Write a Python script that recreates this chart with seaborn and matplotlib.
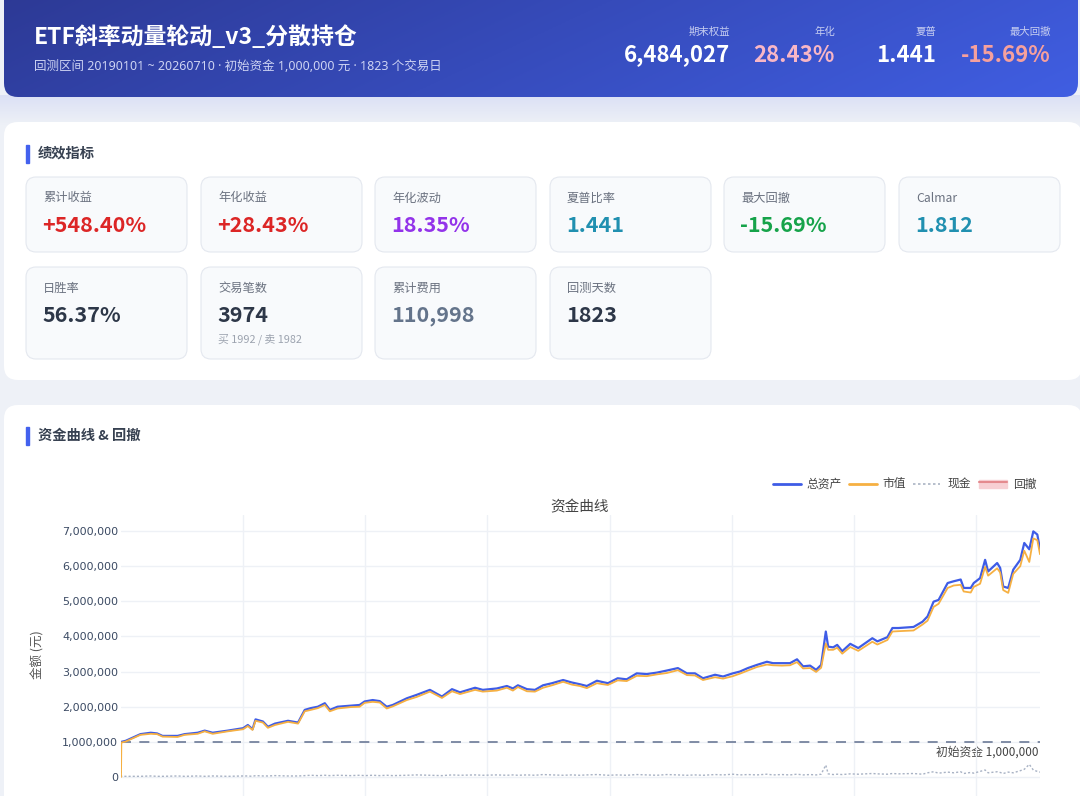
import numpy as np
import pandas as pd
import seaborn as sns
import matplotlib.pyplot as plt
import matplotlib.ticker as mticker
from matplotlib.patches import FancyBboxPatch, Rectangle
from matplotlib.lines import Line2D

sns.set_style('white')
plt.rcParams['font.family'] = ['Noto Sans CJK SC', 'DejaVu Sans']

# ---- header numbers ----
title = 'ETF斜率动量轮动_v3_分散持仓'
subtitle = '回测区间 20190101 ~ 20260710 · 初始资金 1,000,000 元 · 1823 个交易日'
head_labels = ['期末权益', '年化', '夏普', '最大回撤']
head_values = ['6,484,027', '28.43%', '1.441', '-15.69%']

# ---- metric cards ----
card_labels = ['累计收益', '年化收益', '年化波动', '夏普比率', '最大回撤', 'Calmar',
               '日胜率', '交易笔数', '累计费用', '回测天数']
card_values = ['+548.40%', '+28.43%', '18.35%', '1.441', '-15.69%', '1.812',
               '56.37%', '3974', '110,998', '1823']
card_notes = ['', '', '', '', '', '', '', '买 1992 / 卖 1982', '', '']

# ---- equity curve (millions of yuan) ----
dates = ['2019-01-02', '2019-01-03', '2019-01-16', '2019-03-01', '2019-04-01', '2019-04-20',
         '2019-05-06', '2019-06-20', '2019-07-11', '2019-08-19', '2019-09-09', '2019-10-03',
         '2019-11-17', '2020-01-02', '2020-01-16', '2020-01-30', '2020-02-08', '2020-03-01',
         '2020-03-16', '2020-04-06', '2020-05-15', '2020-06-14', '2020-07-04', '2020-07-22',
         '2020-08-12', '2020-09-02', '2020-09-17', '2020-10-10', '2020-11-18', '2020-12-15',
         '2020-12-30', '2021-01-23', '2021-02-13', '2021-03-06', '2021-03-24', '2021-05-05',
         '2021-06-04', '2021-07-13', '2021-08-18', '2021-09-17', '2021-10-11', '2021-11-25',
         '2021-12-18', '2022-01-29', '2022-02-28', '2022-03-18', '2022-04-02', '2022-04-29',
         '2022-05-23', '2022-06-16', '2022-07-13', '2022-08-15', '2022-09-10', '2022-10-04',
         '2022-10-25', '2022-11-24', '2022-12-12', '2022-12-27', '2023-01-25', '2023-02-21',
         '2023-03-23', '2023-04-22', '2023-05-22', '2023-06-21', '2023-07-24', '2023-08-20',
         '2023-09-13', '2023-10-07', '2023-11-12', '2023-12-06', '2024-01-04', '2024-01-25',
         '2024-02-18', '2024-03-16', '2024-04-15', '2024-05-03', '2024-05-30', '2024-06-23',
         '2024-07-14', '2024-08-01', '2024-08-22', '2024-09-09', '2024-09-24', '2024-10-08',
         '2024-10-15', '2024-10-30', '2024-11-11', '2024-11-26', '2024-12-20', '2025-01-13',
         '2025-02-24', '2025-03-11', '2025-04-10', '2025-04-25', '2025-05-13', '2025-06-27',
         '2025-07-24', '2025-08-08', '2025-08-26', '2025-09-10', '2025-10-07', '2025-10-25',
         '2025-11-15', '2025-11-24', '2025-12-15', '2025-12-24', '2026-01-12', '2026-01-27',
         '2026-02-05', '2026-03-04', '2026-03-13', '2026-03-22', '2026-04-06', '2026-04-21',
         '2026-05-12', '2026-05-24', '2026-06-08', '2026-06-20', '2026-07-02', '2026-07-10']
total = [1.00, 1.00, 1.03, 1.22, 1.26, 1.24, 1.17, 1.17, 1.22, 1.26, 1.32, 1.26,
         1.32, 1.39, 1.48, 1.36, 1.64, 1.58, 1.43, 1.52, 1.60, 1.55, 1.91, 1.96,
         2.00, 2.10, 1.91, 2.00, 2.03, 2.05, 2.15, 2.19, 2.16, 2.00, 2.05, 2.24,
         2.34, 2.48, 2.29, 2.50, 2.41, 2.54, 2.48, 2.52, 2.59, 2.52, 2.61, 2.50,
         2.48, 2.61, 2.67, 2.76, 2.69, 2.64, 2.59, 2.74, 2.70, 2.67, 2.81, 2.78,
         2.95, 2.93, 2.97, 3.03, 3.10, 2.95, 2.95, 2.81, 2.91, 2.86, 2.95, 3.00,
         3.10, 3.19, 3.28, 3.24, 3.24, 3.24, 3.35, 3.15, 3.17, 3.05, 3.19, 4.14,
         3.71, 3.69, 3.76, 3.58, 3.79, 3.67, 3.95, 3.86, 3.98, 4.24, 4.24, 4.27,
         4.42, 4.57, 4.99, 5.04, 5.52, 5.57, 5.62, 5.38, 5.38, 5.52, 5.66, 6.18,
         5.85, 6.09, 5.95, 5.42, 5.38, 5.90, 6.18, 6.66, 6.48, 6.99, 6.90, 6.484027]
market = [0.00, 0.98, 1.01, 1.20, 1.23, 1.22, 1.15, 1.14, 1.20, 1.23, 1.30, 1.23,
          1.30, 1.36, 1.45, 1.34, 1.60, 1.55, 1.40, 1.48, 1.57, 1.52, 1.87, 1.91,
          1.96, 2.05, 1.87, 1.95, 1.99, 2.00, 2.11, 2.14, 2.12, 1.95, 2.01, 2.19,
          2.28, 2.43, 2.25, 2.44, 2.36, 2.48, 2.43, 2.46, 2.54, 2.46, 2.56, 2.44,
          2.43, 2.54, 2.61, 2.71, 2.63, 2.59, 2.53, 2.67, 2.64, 2.62, 2.75, 2.73,
          2.88, 2.87, 2.92, 2.96, 3.04, 2.90, 2.89, 2.76, 2.84, 2.80, 2.87, 2.94,
          3.03, 3.13, 3.20, 3.18, 3.17, 3.18, 3.27, 3.09, 3.10, 2.99, 3.11, 3.80,
          3.62, 3.62, 3.68, 3.51, 3.70, 3.59, 3.85, 3.77, 3.90, 4.14, 4.15, 4.17,
          4.34, 4.45, 4.84, 4.93, 5.38, 5.45, 5.47, 5.28, 5.25, 5.41, 5.50, 5.98,
          5.73, 5.94, 5.82, 5.32, 5.24, 5.78, 6.00, 6.44, 6.12, 6.79, 6.74, 6.34]
cash = [1.00, 0.02, 0.02, 0.02, 0.03, 0.02, 0.02, 0.03, 0.02, 0.03, 0.02, 0.03,
        0.02, 0.03, 0.03, 0.02, 0.04, 0.03, 0.03, 0.04, 0.03, 0.03, 0.04, 0.05,
        0.04, 0.05, 0.04, 0.05, 0.04, 0.05, 0.04, 0.05, 0.04, 0.05, 0.04, 0.05,
        0.06, 0.05, 0.04, 0.06, 0.05, 0.06, 0.05, 0.06, 0.05, 0.06, 0.05, 0.06,
        0.05, 0.07, 0.06, 0.05, 0.06, 0.05, 0.06, 0.07, 0.06, 0.05, 0.06, 0.05,
        0.07, 0.06, 0.05, 0.07, 0.06, 0.05, 0.06, 0.05, 0.07, 0.06, 0.08, 0.06,
        0.07, 0.06, 0.08, 0.06, 0.07, 0.06, 0.08, 0.06, 0.07, 0.06, 0.08, 0.34,
        0.09, 0.07, 0.08, 0.07, 0.09, 0.08, 0.10, 0.09, 0.08, 0.10, 0.09, 0.10,
        0.08, 0.12, 0.15, 0.11, 0.14, 0.12, 0.15, 0.10, 0.13, 0.11, 0.16, 0.20,
        0.12, 0.15, 0.13, 0.10, 0.14, 0.12, 0.18, 0.22, 0.36, 0.20, 0.16, 0.14]
init_capital = 1000000
year_ticks = ['2020-01-01', '2021-01-01', '2022-01-01', '2023-01-01',
              '2024-01-01', '2025-01-01', '2026-01-01']

W, H = 1080, 796
fig = plt.figure(figsize=(W / 100, H / 100), dpi=100)
fig.patch.set_facecolor('#eef1f7')
bg = fig.add_axes([0, 0, 1, 1])
bg.axis('off')


def rbox(x0, y0, x1, y1, r, fc, ec='none', lw=0, z=1):
    p = FancyBboxPatch((x0, y0), x1 - x0, y1 - y0,
                       boxstyle='round,pad=0,rounding_size=%s' % r,
                       fc=fc, ec=ec, lw=lw, zorder=z)
    bg.add_patch(p)
    return p


# shadow under the banner
sh = np.linspace(0, 1, 30)[:, None, None]
shadow = (1 - sh) * np.array([0.86, 0.88, 0.96]) + sh * np.array([0.933, 0.945, 0.969])
shadow = np.repeat(shadow, 10, axis=1)
bg.imshow(shadow, extent=[0, W, 125, 95], aspect='auto', zorder=0)

# banner with gradient
banner = rbox(4, -30, 1078, 97, 14, 'none', z=2)
gx = np.linspace(0, 1, 300)[None, :, None]
gy = np.linspace(0, 1, 60)[:, None, None]
c1 = np.array([0x2c, 0x38, 0x92]) / 255
c2 = np.array([0x40, 0x5e, 0xe2]) / 255
t = np.clip(0.8 * gx + 0.2 * gy, 0, 1)
grad = (1 - t) * c1 + t * c2
im = bg.imshow(grad, extent=[4, 1078, 97, -30], aspect='auto', zorder=2)
im.set_clip_path(banner)

bg.text(34, 37, title, color='white', fontsize=16.5, fontweight='bold', va='center', zorder=3)
bg.text(34, 66, subtitle, color='#cdd3f3', fontsize=9, va='center', zorder=3,
        family=['Noto Sans', 'Noto Sans CJK SC'])
head_x = [730, 835, 936, 1051]
head_colors = ['white', '#f8b6c6', 'white', '#f6a09d']
for lbl, val, xr, col in zip(head_labels, head_values, head_x, head_colors):
    bg.text(xr, 32, lbl, color='#c6cdf0', fontsize=7.5, ha='right', va='center', zorder=3)
    bg.text(xr, 55, val, color=col, fontsize=16, fontweight='bold', ha='right', va='center', zorder=3)

# panels
rbox(4, 122, 1082, 380, 14, 'white', z=1)
rbox(4, 405, 1082, 830, 14, 'white', z=1)


def section(y, text):
    bg.add_patch(Rectangle((26, y - 9), 2.5, 18, color='#4361ee', zorder=3))
    bg.text(38, y, text, color='#374151', fontsize=10.3, fontweight='bold', va='center', zorder=3)


section(154, '绩效指标')
section(436, '资金曲线 & 回撤')

card_x = [26, 201, 375, 550, 724, 899]
value_colors = ['#dc2626', '#dc2626', '#9333ea', '#2190b0', '#16a34a', '#2190b0',
                '#2d3748', '#2d3748', '#64748b', '#2d3748']
for i, (lbl, val, note, col) in enumerate(zip(card_labels, card_values, card_notes, value_colors)):
    row = 0 if i < 6 else 1
    x0 = card_x[i % 6] if row == 0 else card_x[i - 6]
    y0, y1 = (177, 252) if row == 0 else (267, 359)
    rbox(x0, y0, x0 + 161, y1, 10, '#f8fafc', ec='#e4e8ef', lw=0.8, z=2)
    bg.text(x0 + 17, y0 + 21, lbl, color='#6b7280', fontsize=8.8, va='center', zorder=3)
    bg.text(x0 + 16, y0 + 49, val, color=col, fontsize=15.5, fontweight='bold', va='center', zorder=3)
    if note:
        bg.text(x0 + 17, y0 + 72, note, color='#9ca3af', fontsize=7.8, va='center', zorder=3)

# legend
bg.add_line(Line2D([773, 801], [484, 484], color='#3e5ce6', lw=2, zorder=3))
bg.text(806, 484, '总资产', fontsize=8.5, color='#444444', va='center', zorder=3)
bg.add_line(Line2D([849, 877], [484, 484], color='#f6b042', lw=2, zorder=3))
bg.text(882, 484, '市值', fontsize=8.5, color='#444444', va='center', zorder=3)
bg.add_line(Line2D([913, 940], [484, 484], color='#aab4c4', lw=1.2, ls=(0, (1.5, 1.5)), zorder=3))
bg.text(948, 484, '现金', fontsize=8.5, color='#444444', va='center', zorder=3)
bg.add_patch(Rectangle((979, 480), 28, 8, color='#f7cfd3', zorder=3))
bg.add_line(Line2D([979, 1007], [482, 482], color='#e48a8e', lw=1.5, zorder=3))
bg.text(1013, 484, '回撤', fontsize=8.5, color='#444444', va='center', zorder=3)

bg.text(580, 507, '资金曲线', fontsize=10.5, color='#444444', ha='center', va='center', zorder=3)
bg.text(38, 655, '金额 (元)', fontsize=9, color='#555555', rotation=90, ha='center', va='center', zorder=3)
bg.text(1038, 752, '初始资金 1,000,000', fontsize=8.5, color='#444444', ha='right', va='center', zorder=3)

bg.set_xlim(0, W)
bg.set_ylim(H, 0)

# equity chart
df = pd.DataFrame({
    'date': pd.to_datetime(dates),
    'total': np.array(total) * 1e6,
    'market': np.array(market) * 1e6,
    'cash': np.array(cash) * 1e6,
})
ax = fig.add_axes([121 / W, 0, 919 / W, (H - 515) / H])
ax.set_facecolor('none')
sns.lineplot(data=df, x='date', y='cash', ax=ax, color='#a8b2c4', lw=1, linestyle=(0, (1.5, 1.5)))
sns.lineplot(data=df, x='date', y='total', ax=ax, color='#3e5ce6', lw=1.6)
sns.lineplot(data=df, x='date', y='market', ax=ax, color='#f6b042', lw=1.3)
ax.axhline(init_capital, color='#6c7a96', lw=1.2, ls=(0, (6, 5)), zorder=1)

ax.set_xlim(pd.Timestamp(dates[0]), pd.Timestamp(dates[-1]))
ax.set_ylim(-0.54e6, 7.456e6)
ax.set_xticks(pd.to_datetime(year_ticks))
ax.set_xticklabels([])
ax.set_yticks(np.arange(0, 7.5e6, 1e6))
ax.yaxis.set_major_formatter(mticker.FuncFormatter(lambda v, p: '{:,.0f}'.format(v)))
ax.tick_params(axis='both', length=0, pad=2, labelsize=8, colors='#3b4a63')
for lbl in ax.get_yticklabels():
    lbl.set_fontfamily('DejaVu Sans')
ax.grid(True, color='#eef1f6', lw=1)
ax.set_axisbelow(True)
ax.set_xlabel('')
ax.set_ylabel('')
for s in ax.spines.values():
    s.set_visible(False)

fig.savefig('out.png', dpi=100, facecolor=fig.get_facecolor())
